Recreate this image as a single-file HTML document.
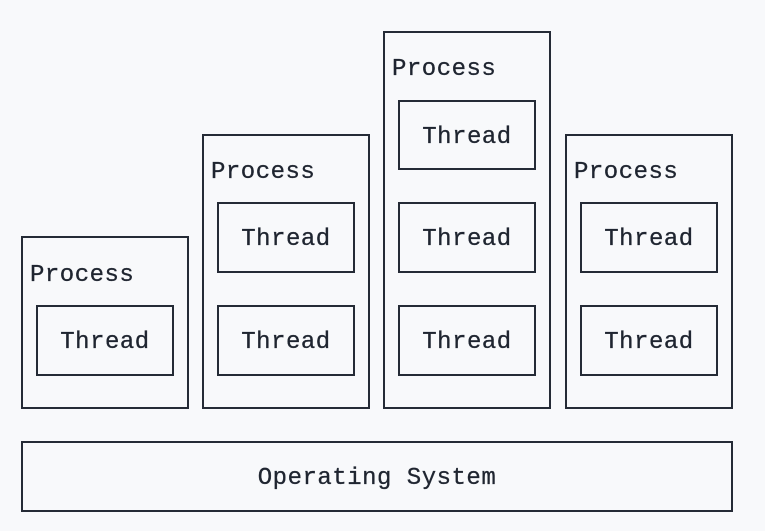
<!DOCTYPE html>
<html><head><style>
body{margin:0;width:765px;height:531px;background:#f8f9fb;position:relative;overflow:hidden;font-family:"Liberation Mono",monospace;color:#1f2530}
.b{position:absolute;border:2px solid #252b36;box-sizing:border-box}
.t{position:absolute;font-size:24px;letter-spacing:0.5px;line-height:24px;white-space:pre;-webkit-text-stroke:0.3px #1f2530}
.th{display:flex;align-items:center;justify-content:center;font-size:24px;letter-spacing:0.5px;padding-top:4px;-webkit-text-stroke:0.3px #1f2530}
</style></head><body>
<div class="b" style="left:21px;top:236px;width:168px;height:173px"></div>
<div class="t" style="left:30px;top:264px">Process</div>
<div class="b th" style="left:36px;top:305px;width:138px;height:71px">Thread</div>

<div class="b" style="left:202px;top:134px;width:168px;height:275px"></div>
<div class="t" style="left:211px;top:161px">Process</div>
<div class="b th" style="left:217px;top:202px;width:138px;height:71px">Thread</div>
<div class="b th" style="left:217px;top:305px;width:138px;height:71px">Thread</div>

<div class="b" style="left:383px;top:31px;width:168px;height:378px"></div>
<div class="t" style="left:392px;top:58px">Process</div>
<div class="b th" style="left:398px;top:100px;width:138px;height:70px">Thread</div>
<div class="b th" style="left:398px;top:202px;width:138px;height:71px">Thread</div>
<div class="b th" style="left:398px;top:305px;width:138px;height:71px">Thread</div>

<div class="b" style="left:565px;top:134px;width:168px;height:275px"></div>
<div class="t" style="left:574px;top:161px">Process</div>
<div class="b th" style="left:580px;top:202px;width:138px;height:71px">Thread</div>
<div class="b th" style="left:580px;top:305px;width:138px;height:71px">Thread</div>

<div class="b th" style="left:21px;top:441px;width:712px;height:71px">Operating System</div>
</body></html>
